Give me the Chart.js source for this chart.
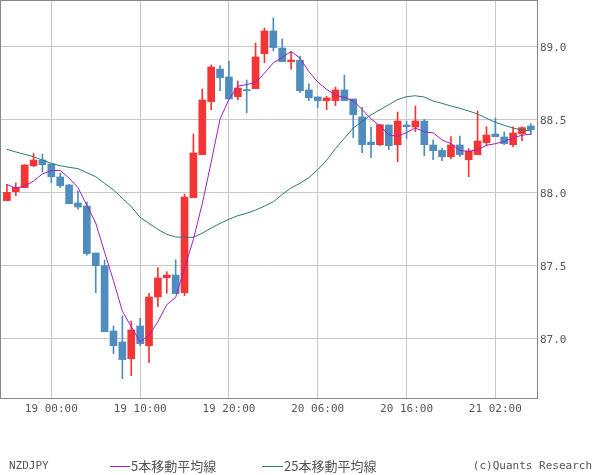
<!DOCTYPE html>
<html>
<head>
<meta charset="utf-8">
<script src="https://cdn.jsdelivr.net/npm/chart.js@4"></script>
<style>
  html, body { margin: 0; padding: 0; background: #fff; }
</style>
</head>
<body>
<canvas id="grafico" width="600" height="475"></canvas>
<script>
// Datos (velas de 1 hora, NZDJPY)
const apertura = [87.943, 88.004, 88.032, 88.182, 88.221, 88.194, 88.105, 88.050, 87.927, 87.906,
  87.584, 87.497, 87.050, 86.975, 86.860, 87.084, 86.949, 87.283, 87.415, 87.433,
  87.312, 87.963, 88.258, 88.621, 88.844, 88.790, 88.655, 88.703, 88.710, 88.949,
  89.105, 88.988, 88.895, 88.904, 88.701, 88.653, 88.628, 88.628, 88.701, 88.639,
  88.516, 88.344, 88.326, 88.461, 88.326, 88.461, 88.447, 88.488, 88.324, 88.287,
  88.244, 88.324, 88.223, 88.258, 88.340, 88.399, 88.379, 88.326, 88.401, 88.454];
const maximo = [88.054, 88.064, 88.190, 88.267, 88.262, 88.194, 88.132, 88.054, 88.009, 87.933,
  87.584, 87.536, 87.084, 87.153, 87.118, 87.137, 87.308, 87.484, 87.456, 87.538,
  87.988, 88.399, 88.707, 88.872, 88.867, 88.899, 88.762, 88.769, 89.022, 89.125,
  89.194, 89.050, 88.963, 88.933, 88.742, 88.653, 88.657, 88.721, 88.803, 88.639,
  88.582, 88.447, 88.463, 88.461, 88.550, 88.486, 88.591, 88.500, 88.358, 88.303,
  88.381, 88.385, 88.299, 88.557, 88.449, 88.509, 88.413, 88.449, 88.449, 88.470];
const minimo = [87.943, 87.977, 88.030, 88.175, 88.139, 88.066, 88.032, 87.922, 87.885, 87.570,
  87.312, 87.045, 86.895, 86.723, 86.744, 86.949, 86.833, 87.217, 87.308, 87.306,
  87.292, 87.963, 88.258, 88.566, 88.696, 88.639, 88.634, 88.545, 88.710, 88.888,
  88.968, 88.895, 88.844, 88.682, 88.628, 88.580, 88.566, 88.593, 88.628, 88.374,
  88.271, 88.237, 88.319, 88.292, 88.210, 88.367, 88.415, 88.251, 88.223, 88.217,
  88.230, 88.244, 88.107, 88.258, 88.319, 88.381, 88.326, 88.312, 88.354, 88.395];
const cierre = [88.000, 88.034, 88.187, 88.221, 88.189, 88.107, 88.045, 87.922, 87.899, 87.580,
  87.497, 87.045, 86.949, 86.854, 87.057, 86.963, 87.283, 87.413, 87.433, 87.306,
  87.968, 88.269, 88.632, 88.858, 88.785, 88.639, 88.714, 88.696, 88.927, 89.105,
  88.991, 88.895, 88.906, 88.696, 88.648, 88.628, 88.646, 88.701, 88.628, 88.532,
  88.326, 88.326, 88.463, 88.319, 88.488, 88.449, 88.488, 88.326, 88.285, 88.244,
  88.324, 88.258, 88.283, 88.351, 88.392, 88.381, 88.333, 88.406, 88.443, 88.429];
const ma5 = [88.054, 88.027, 88.043, 88.077, 88.126, 88.148, 88.150, 88.097, 88.032, 87.911,
  87.789, 87.589, 87.394, 87.185, 87.080, 86.974, 87.021, 87.114, 87.230, 87.280,
  87.481, 87.678, 87.922, 88.207, 88.502, 88.637, 88.726, 88.738, 88.752, 88.816,
  88.887, 88.923, 88.965, 88.919, 88.827, 88.755, 88.705, 88.664, 88.650, 88.627,
  88.567, 88.503, 88.455, 88.393, 88.384, 88.409, 88.441, 88.414, 88.407, 88.358,
  88.333, 88.287, 88.279, 88.292, 88.322, 88.333, 88.348, 88.373, 88.391, 88.398];
const ma25 = [88.294, 88.276, 88.260, 88.244, 88.221, 88.198, 88.182, 88.171, 88.162, 88.134,
  88.107, 88.061, 88.016, 87.959, 87.902, 87.828, 87.787, 87.746, 87.712, 87.694,
  87.691, 87.692, 87.720, 87.755, 87.787, 87.815, 87.840, 87.856, 87.878, 87.905,
  87.935, 87.985, 88.030, 88.062, 88.100, 88.155, 88.220, 88.300, 88.370, 88.440,
  88.485, 88.530, 88.565, 88.600, 88.635, 88.655, 88.661, 88.652, 88.625, 88.609,
  88.591, 88.575, 88.557, 88.536, 88.507, 88.479, 88.459, 88.440, 88.427, 88.420];

// Etiquetas del eje X (índice de vela) y del eje Y
const posTicks = [5, 15, 25, 35, 45, 55];
const etiquetasTiempo = ['19 00:00', '19 10:00', '19 20:00', '20 06:00', '20 16:00', '21 02:00'];
const preciosTicks = [87.0, 87.5, 88.0, 88.5, 89.0];

const ROJO = '#f43535';
const AZUL = '#4f8dbf';
const MORADO = '#a020c0';
const VERDE = '#2b7a70';
const FUENTE = "'DejaVu Sans Mono', monospace";

const colores = cierre.map((c, i) => c >= apertura[i] ? ROJO : AZUL);
const mechas = minimo.map((l, i) => ({ x: i, y: [l, maximo[i]] }));
const cuerpos = apertura.map((o, i) => ({ x: i, y: [o, cierre[i]] }));
const serie = arr => arr.map((v, i) => ({ x: i, y: v }));

// Sin márgenes extra para las etiquetas
function sinPadding(s) {
  s.paddingTop = 0;
  s.paddingBottom = 0;
  s.paddingLeft = 0;
  s.paddingRight = 0;
}

// Marco, leyenda y copyright
const piePagina = {
  id: 'piePagina',
  afterDraw(chart) {
    const { ctx, chartArea: a } = chart;
    ctx.save();
    ctx.strokeStyle = '#888';
    ctx.lineWidth = 1;
    ctx.strokeRect(a.left + 0.5, a.top + 0.5, a.right - a.left, a.bottom - a.top);

    const y = 466;
    ctx.textBaseline = 'middle';
    ctx.fillStyle = '#555';
    ctx.font = `11px ${FUENTE}`;
    ctx.textAlign = 'left';
    ctx.fillText('NZDJPY', 9, y);
    ctx.textAlign = 'right';
    ctx.fillText('(c)Quants Research', 592, y);

    ctx.textAlign = 'left';
    ctx.font = "13px 'Noto Sans CJK JP'";
    [[110, 130, MORADO, 0], [262, 283, VERDE, 1]].forEach(([x0, x1, col, d]) => {
      ctx.strokeStyle = col;
      ctx.beginPath();
      ctx.moveTo(x0, y + 0.5);
      ctx.lineTo(x1, y + 0.5);
      ctx.stroke();
      ctx.fillText(chart.data.datasets[d].label, x1 + 1, y);
    });
    ctx.restore();
  }
};

const ctx = document.getElementById('grafico').getContext('2d');
new Chart(ctx, {
  type: 'bar',
  data: {
    datasets: [
      { type: 'line', label: '5本移動平均線', data: serie(ma5), borderColor: MORADO, borderWidth: 1, pointRadius: 0, order: 0 },
      { type: 'line', label: '25本移動平均線', data: serie(ma25), borderColor: VERDE, borderWidth: 1, pointRadius: 0, order: 1 },
      { label: 'cuerpo', data: cuerpos, backgroundColor: colores, barThickness: 7, grouped: false, minBarLength: 1, order: 2 },
      { label: 'mecha', data: mechas, backgroundColor: colores, barThickness: 1, grouped: false, order: 3 }
    ]
  },
  options: {
    responsive: false,
    animation: false,
    devicePixelRatio: 1,
    layout: { padding: 0 },
    plugins: { legend: { display: false }, tooltip: { enabled: false } },
    scales: {
      x: {
        type: 'linear',
        offset: false,
        min: -0.78,
        max: 59.69,
        afterBuildTicks: s => { s.ticks = posTicks.map(v => ({ value: v })); },
        afterFit: s => { s.height = 77; sinPadding(s); },
        grid: { color: '#c8c8c8', drawTicks: false, offset: false },
        border: { display: false },
        ticks: {
          callback: (v, i) => etiquetasTiempo[i],
          autoSkip: false,
          maxRotation: 0,
          padding: 5,
          color: '#555',
          font: { family: FUENTE, size: 11 }
        }
      },
      y: {
        position: 'right',
        min: 86.591,
        max: 89.317,
        afterBuildTicks: s => { s.ticks = preciosTicks.map(v => ({ value: v })); },
        afterFit: s => { s.width = 63; sinPadding(s); },
        grid: { color: '#c8c8c8', drawTicks: false },
        border: { display: false },
        ticks: {
          callback: v => v.toFixed(1),
          padding: 3,
          labelOffset: 2,
          color: '#555',
          font: { family: FUENTE, size: 11 }
        }
      }
    }
  },
  plugins: [piePagina]
});
</script>
</body>
</html>
